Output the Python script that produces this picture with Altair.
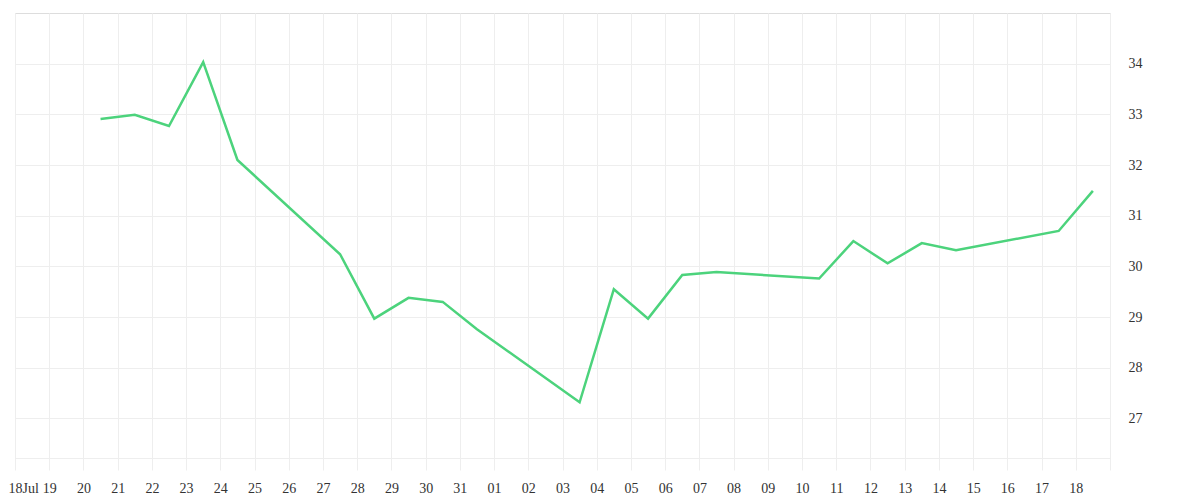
import altair as alt
import pandas as pd

dates = [
    "2020-07-20", "2020-07-21", "2020-07-22", "2020-07-23", "2020-07-24",
    "2020-07-27", "2020-07-28", "2020-07-29", "2020-07-30", "2020-07-31",
    "2020-08-03", "2020-08-04", "2020-08-05", "2020-08-06", "2020-08-07",
    "2020-08-10", "2020-08-11", "2020-08-12", "2020-08-13", "2020-08-14",
    "2020-08-17", "2020-08-18",
]
values = [
    32.91, 32.99, 32.77, 34.03, 32.10,
    30.24, 28.97, 29.38, 29.30, 28.76,
    27.32, 29.55, 28.97, 29.83, 29.89,
    29.76, 30.50, 30.06, 30.46, 30.32,
    30.70, 31.49,
]
y_ticks = [27, 28, 29, 30, 31, 32, 33, 34]

df = pd.DataFrame({"date": [d + "T12:00:00Z" for d in dates], "value": values})

grid = "#eeeeee"
font = "Liberation Serif"
first_test = "utcFormat(datum.value, '%m-%d') == '07-18'"

x_axis = alt.Axis(
    title=None,
    grid=True,
    gridColor=grid,
    domain=True,
    domainColor=grid,
    ticks=True,
    tickColor=grid,
    tickSize=12,
    tickCount=alt.TimeIntervalStep(interval="day", step=1),
    labelExpr="utcFormat(datum.value, '%m-%d') == '07-18' ? '18Jul' : (utcFormat(datum.value, '%m-%d') == '08-19' ? '' : utcFormat(datum.value, '%d'))",
    labelAlign={"condition": {"test": first_test, "value": "left"}, "value": "center"},
    labelOffset={"condition": {"test": first_test, "value": -7}, "value": 0},
    labelFont=font,
    labelFontSize=14,
    labelColor="#333333",
    labelPadding=11,
    labelOverlap=False,
    labelFlush=False,
)

y_axis = alt.Axis(
    title=None,
    orient="right",
    values=y_ticks,
    grid=True,
    gridColor=grid,
    domain=False,
    ticks=False,
    labelFont=font,
    labelFontSize=14,
    labelColor="#333333",
    labelPadding=18,
)

chart = (
    alt.Chart(df)
    .mark_line(color="#4cd37c", strokeWidth=2.5)
    .encode(
        x=alt.X(
            "date:T",
            axis=x_axis,
            scale=alt.Scale(type="utc", domain=["2020-07-18T00:00:00Z", "2020-08-19T00:00:00Z"], nice=False),
        ),
        y=alt.Y(
            "value:Q",
            axis=y_axis,
            scale=alt.Scale(domain=[26.22, 35.0], nice=False, zero=False),
        ),
    )
    .properties(
        width=1095,
        height=445,
        autosize=alt.AutoSizeParams(type="none"),
        padding={"left": 7, "top": 5, "right": 80, "bottom": 40},
    )
    .configure_view(stroke=grid, strokeWidth=1)
    .configure(background="white")
)

chart.save("out.html", embed_options={"renderer": "svg", "actions": False})
